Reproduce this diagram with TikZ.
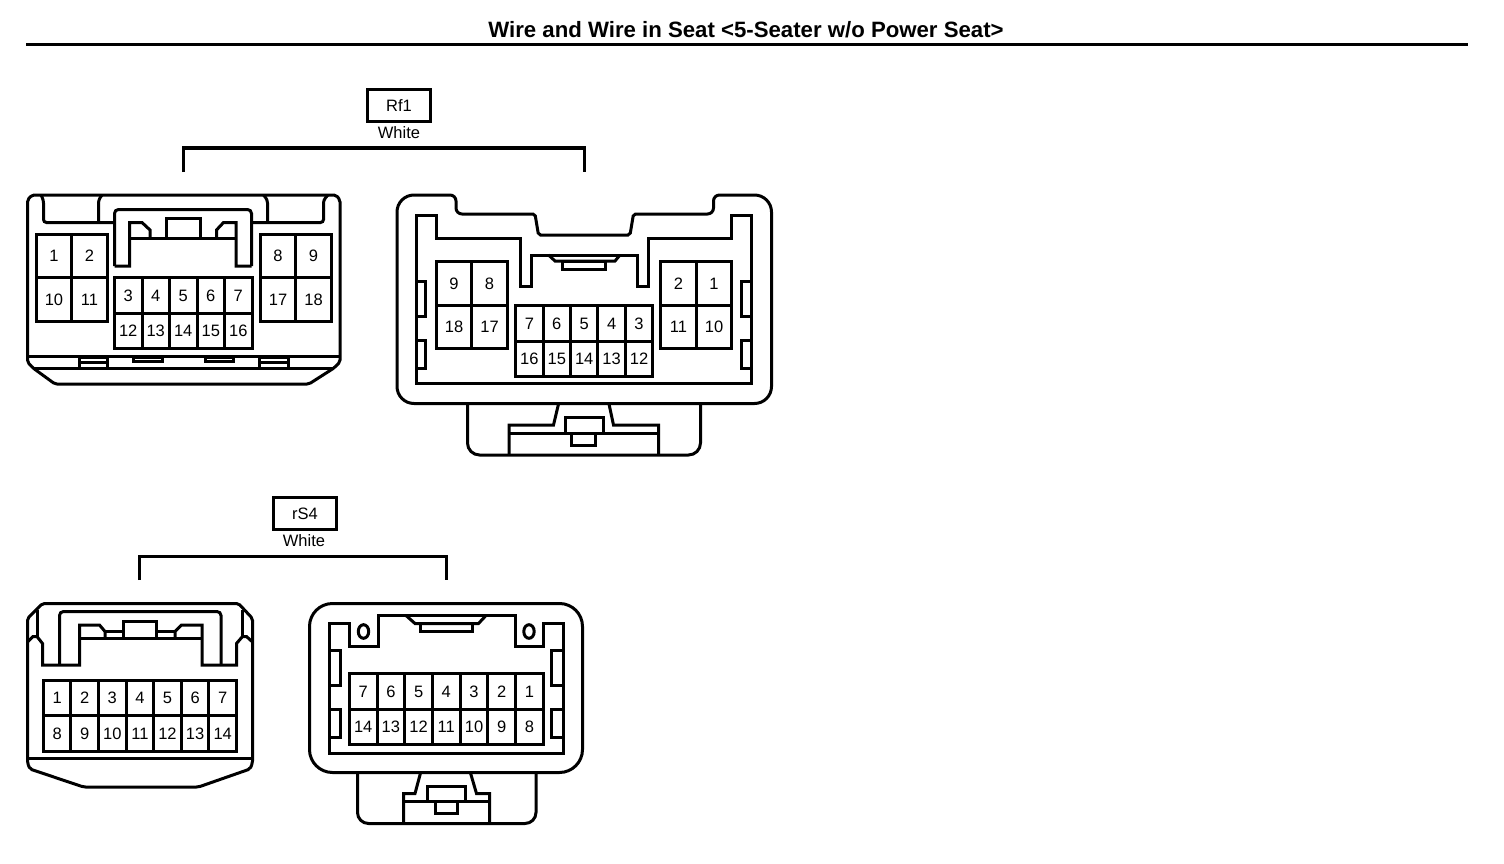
\documentclass[tikz,border=0pt]{standalone}
\usepackage{fontspec}
\setmainfont{Liberation Sans}
\usetikzlibrary{positioning}
\tikzset{every picture/.style={line width=3pt}}
\tikzset{font=\fontsize{16.5}{18}\selectfont}
\tikzstyle{pin}=[rectangle,draw,inner sep=0pt,outer sep=0pt,text height=11.8pt,text depth=0pt]
\tikzstyle{big}=[pin,minimum width=35.5pt,minimum height=43.5pt]
\tikzstyle{small}=[pin,minimum width=27.5pt,minimum height=35.5pt]
\tikzstyle{tag}=[rectangle,draw,inner sep=0pt,outer sep=0pt,minimum width=63pt,minimum height=32pt]

\begin{document}
\begin{tikzpicture}[x=1pt,y=-1pt]
\useasboundingbox (0,0) rectangle (1504,864);
\node[font=\fontsize{22.2}{24}\selectfont\bfseries] (T) at (746,30) {Wire and Wire in Seat <5-Seater w/o Power Seat>};
\coordinate (R1) at (26,44.5);
\coordinate (R2) at (1468,44.5);
\draw (R1) -- (R2);

\node[tag] (Rf) at (399,105.5) {Rf1};
\node (RfW) at (399,133) {White};
\coordinate (Rf1) at (183.5,172);
\coordinate (Rf2) at (584,172);
\draw (Rf1) -- ++(0,-24) -| (Rf2);

\node[tag] (rS) at (305,513.5) {rS4};
\node (rSW) at (304,541) {White};
\coordinate (rS1) at (139.5,580);
\coordinate (rS2) at (446,580);
\draw (rS1) -- ++(0,-24) -| (rS2);

% Rf1, plug
\draw[rounded corners=2pt] (27.5,362) -- (27.5,200) -- (32,195) -- (336,195) -- (340,200) -- (340,362) -- (334,368) -- (309,384) -- (55,384) -- (33,368) -- cycle;
\draw (27.5,356.5) -- (340,356.5);
\draw (33,368) -- (334,368);
\draw[rounded corners=3pt] (41,195) -- (43.5,200) -- (43.5,222.5) -- (114.5,222.5);
\draw[rounded corners=3pt] (102,195) -- (98.5,200) -- (98.5,222.5);
\draw[rounded corners=3pt] (263.5,195) -- (267.5,200) -- (267.5,222.5);
\draw[rounded corners=3pt] (328,195) -- (323.5,200) -- (323.5,222.5) -- (251.5,222.5);
\draw[rounded corners=4pt] (114.5,266) -- (114.5,209.5) -- (251.5,209.5) -- (251.5,266);
\draw (114.5,266) -- (129.5,266) -- (129.5,222.5) -- (142,222.5) -- (150,230) -- (150,238.5);
\draw (251.5,266) -- (236,266) -- (236,222.5) -- (223.5,222.5) -- (216.5,230) -- (216.5,238.5);
\draw (129.5,238.5) -- (236,238.5);
\draw (166,238.5) -- (166,218.5) -- (200,218.5) -- (200,238.5);
\draw (79.5,357) rectangle (107,368);
\draw (79.5,362.5) -- (107,362.5);
\draw (259.5,357) rectangle (288,368);
\draw (259.5,362.5) -- (288,362.5);
\draw (133.5,357) rectangle (162.5,361);
\draw (205,357) rectangle (233.5,361);
\node[big] (A1) at (54,256) {1};
\node[big] (A2) at (89.5,256) {2};
\node[big] (A10) at (54,299.5) {10};
\node[big] (A11) at (89.5,299.5) {11};
\node[big] (A8) at (278,256) {8};
\node[big] (A9) at (313.5,256) {9};
\node[big] (A17) at (278,299.5) {17};
\node[big] (A18) at (313.5,299.5) {18};
\node[small] (A3) at (128.25,295.25) {3};
\node[small] (A4) at (155.75,295.25) {4};
\node[small] (A5) at (183.25,295.25) {5};
\node[small] (A6) at (210.75,295.25) {6};
\node[small] (A7) at (238.25,295.25) {7};
\node[small] (A12) at (128.25,330.75) {12};
\node[small] (A13) at (155.75,330.75) {13};
\node[small] (A14) at (183.25,330.75) {14};
\node[small] (A15) at (210.75,330.75) {15};
\node[small] (A16) at (238.25,330.75) {16};

% Rf1, socket
\draw [rounded corners=17pt] (584,403.5) -- (397,403.5) -- (397,195) [rounded corners=6pt] -- (456,195) -- (456,214) [rounded corners=2pt] -- (535,214) -- (538.5,235) -- (630,235) -- (633.5,214) [rounded corners=6pt] -- (713.5,214) -- (713.5,195) [rounded corners=17pt] -- (771.5,195) -- (771.5,403.5) -- (584,403.5);
\draw (416.5,215) -- (436.5,215) -- (436.5,238.5) -- (520,238.5) -- (520,286) -- (531,286) -- (531,255) -- (637,255) -- (637,286) -- (648,286) -- (648,238.5) -- (731.5,238.5) -- (731.5,215) -- (751.5,215) -- (751.5,383.5) -- (416.5,383.5) -- cycle;
\draw (548.5,255) -- (555,261) -- (615,261) -- (620,255);
\draw (562.5,261) rectangle (605.5,269.5);
\draw (416.5,281) -| (425.5,316.5) -- (416.5,316.5);
\draw (416.5,340.5) -| (425.5,368.5) -- (416.5,368.5);
\draw (751.5,281) -| (741.5,316.5) -- (751.5,316.5);
\draw (751.5,340.5) -| (741.5,368.5) -- (751.5,368.5);
\draw[rounded corners=12pt] (467.5,403.5) -- (467.5,455) -- (700.5,455) -- (700.5,403.5);
\draw (558.5,404) -- (553.5,425) -- (509,425) -- (509,455);
\draw (609,404) -- (613.5,425) -- (658.5,425) -- (658.5,455);
\draw (509,433.5) -- (658.5,433.5);
\draw (565,417.5) rectangle (603.5,433.5);
\draw (571.5,433.5) rectangle (595.5,445.5);
\node[big] (B9) at (454,283.5) {9};
\node[big] (B8) at (489.5,283.5) {8};
\node[big] (B18) at (454,327) {18};
\node[big] (B17) at (489.5,327) {17};
\node[big] (B2) at (678.5,283.5) {2};
\node[big] (B1) at (714,283.5) {1};
\node[big] (B11) at (678.5,327) {11};
\node[big] (B10) at (714,327) {10};
\node[small] (B7) at (529.4,323.5) {7};
\node[small] (B6) at (556.8,323.5) {6};
\node[small] (B5) at (584.2,323.5) {5};
\node[small] (B4) at (611.6,323.5) {4};
\node[small] (B3) at (639,323.5) {3};
\node[small] (B16) at (529.4,359) {16};
\node[small] (B15) at (556.8,359) {15};
\node[small] (B14) at (584.2,359) {14};
\node[small] (B13) at (611.6,359) {13};
\node[small] (B12) at (639,359) {12};

% rS4, plug
\draw[rounded corners=2pt] (42.5,603.5) -- (238.5,603.5) -- (252.5,618.5) -- (252.5,763) -- (250,769) -- (198.5,787) -- (83.5,787) -- (30,769) -- (27.5,763) -- (27.5,618.5) -- cycle;
\draw (27.5,758.5) -- (252.5,758.5);
\draw (27.5,642) -- (33,636.5) -- (37,636.5) -- (42.5,643.5) -- (42.5,665) -- (79.5,665) -- (79.5,625) -- (99.5,625) -- (105,631.5) -- (105,638.5);
\draw (252.5,642) -- (246.5,636.5) -- (242.5,636.5) -- (236.5,643.5) -- (236.5,665) -- (202,665) -- (202,625) -- (181.5,625) -- (175,631.5) -- (175,638.5);
\draw (37,636.5) -- (37,610);
\draw (242.5,636.5) -- (242.5,610);
\draw (79.5,638.5) -- (202,638.5);
\draw (123.5,638.5) -- (123.5,621.5) -- (156.5,621.5) -- (156.5,638.5);
\draw (105,631.5) -- (123.5,631.5);
\draw (156.5,631.5) -- (175,631.5);
\draw[rounded corners=4pt] (59.5,665) -- (59.5,611.5) -- (221,611.5) -- (221,665);
\node[small,minimum width=27.6pt] (C1) at (57.1,698) {1};
\node[small,minimum width=27.6pt] (C2) at (84.7,698) {2};
\node[small,minimum width=27.6pt] (C3) at (112.3,698) {3};
\node[small,minimum width=27.6pt] (C4) at (139.9,698) {4};
\node[small,minimum width=27.6pt] (C5) at (167.5,698) {5};
\node[small,minimum width=27.6pt] (C6) at (195.1,698) {6};
\node[small,minimum width=27.6pt] (C7) at (222.7,698) {7};
\node[small,minimum width=27.6pt] (C8) at (57.1,733.5) {8};
\node[small,minimum width=27.6pt] (C9) at (84.7,733.5) {9};
\node[small,minimum width=27.6pt] (C10) at (112.3,733.5) {10};
\node[small,minimum width=27.6pt] (C11) at (139.9,733.5) {11};
\node[small,minimum width=27.6pt] (C12) at (167.5,733.5) {12};
\node[small,minimum width=27.6pt] (C13) at (195.1,733.5) {13};
\node[small,minimum width=27.6pt] (C14) at (222.7,733.5) {14};

% rS4, socket
\draw[rounded corners=23pt] (446,772.5) -- (309.5,772.5) -- (309.5,603.5) -- (582.5,603.5) -- (582.5,772.5) -- (446,772.5);
\draw (329.5,623.5) -- (349.5,623.5) -- (349.5,646) -- (378.5,646) -- (378.5,615.5) -- (515,615.5) -- (515,646) -- (543.5,646) -- (543.5,623.5) -- (563.5,623.5) -- (563.5,753.5) -- (329.5,753.5) -- cycle;
\draw (363.5,631.5) ellipse [x radius=5.2pt,y radius=6.8pt];
\draw (529,631.5) ellipse [x radius=5.2pt,y radius=6.8pt];
\draw (406,615.5) -- (415,623.5) -- (478.5,623.5) -- (486,615.5);
\draw (420.5,623.5) rectangle (472.5,631.5);
\draw (329.5,650) -| (340,685) -- (329.5,685);
\draw (329.5,709.5) -| (340,737.5) -- (329.5,737.5);
\draw (563.5,650) -| (551.5,685) -- (563.5,685);
\draw (563.5,709.5) -| (551.5,737.5) -- (563.5,737.5);
\draw[rounded corners=11pt] (357.5,772.5) -- (357.5,823.5) -- (536,823.5) -- (536,772.5);
\draw (420.5,773) -- (415,793.5) -- (403.5,793.5) -- (403.5,823.5);
\draw (470.5,773) -- (476.5,793.5) -- (489.5,793.5) -- (489.5,823.5);
\draw (403.5,801.5) -- (489.5,801.5);
\draw (427.5,786.5) rectangle (465.5,801.5);
\draw (435,801.5) rectangle (457.5,813.5);
\node[small,minimum width=27.7pt] (D7) at (363.2,691.5) {7};
\node[small,minimum width=27.7pt] (D6) at (390.9,691.5) {6};
\node[small,minimum width=27.7pt] (D5) at (418.6,691.5) {5};
\node[small,minimum width=27.7pt] (D4) at (446.3,691.5) {4};
\node[small,minimum width=27.7pt] (D3) at (474,691.5) {3};
\node[small,minimum width=27.7pt] (D2) at (501.7,691.5) {2};
\node[small,minimum width=27.7pt] (D1) at (529.4,691.5) {1};
\node[small,minimum width=27.7pt] (D14) at (363.2,727) {14};
\node[small,minimum width=27.7pt] (D13) at (390.9,727) {13};
\node[small,minimum width=27.7pt] (D12) at (418.6,727) {12};
\node[small,minimum width=27.7pt] (D11) at (446.3,727) {11};
\node[small,minimum width=27.7pt] (D10) at (474,727) {10};
\node[small,minimum width=27.7pt] (D9) at (501.7,727) {9};
\node[small,minimum width=27.7pt] (D8) at (529.4,727) {8};
\end{tikzpicture}
\end{document}
